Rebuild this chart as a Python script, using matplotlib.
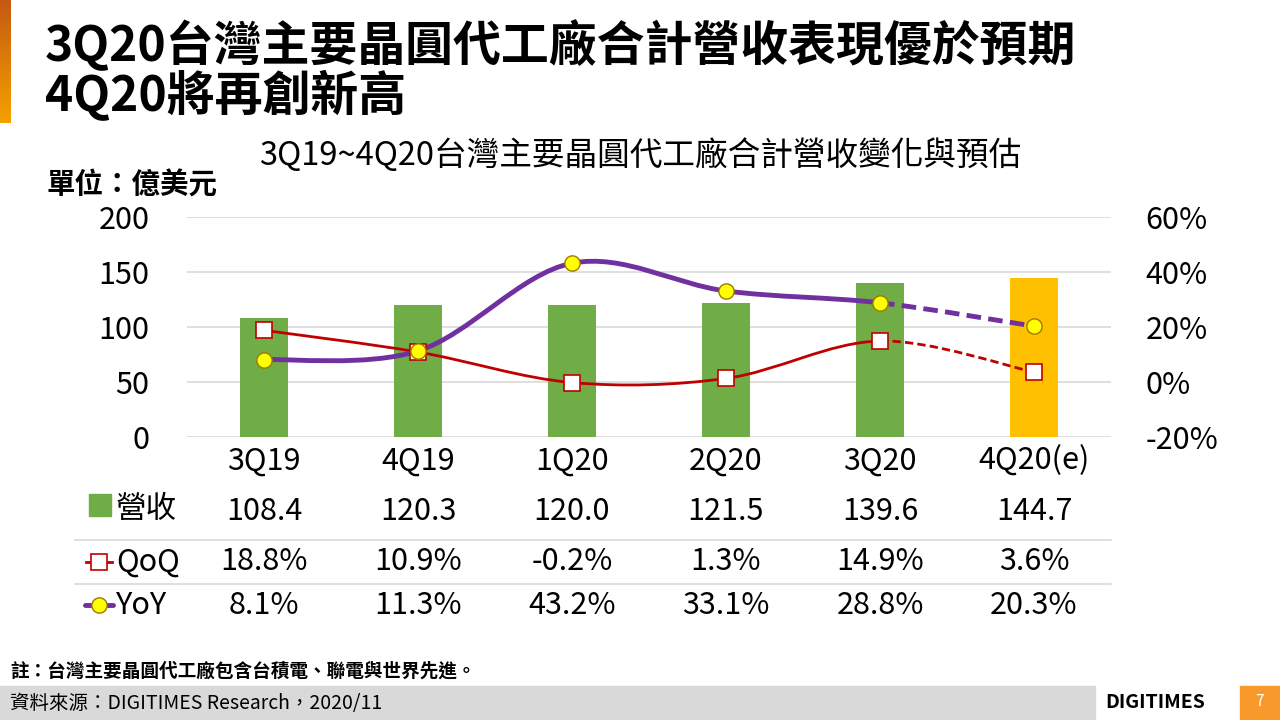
import numpy as np
import matplotlib
matplotlib.use('Agg')
from matplotlib import pyplot as plt
from matplotlib.path import Path
from matplotlib.patches import PathPatch, Rectangle
from matplotlib.lines import Line2D
import matplotlib.transforms as mtransforms

plt.rcParams['font.family'] = ['Noto Sans CJK TC', 'DejaVu Sans']

# Data
quarters = ['3Q19', '4Q19', '1Q20', '2Q20', '3Q20', '4Q20(e)']
revenue = [108.4, 120.3, 120.0, 121.5, 139.6, 144.7]
qoq = [18.8, 10.9, -0.2, 1.3, 14.9, 3.6]
yoy = [8.1, 11.3, 43.2, 33.1, 28.8, 20.3]
bar_colors = ['#70AD47'] * 5 + ['#FFC000']

GREEN = '#70AD47'
RED = '#C00000'
PURPLE = '#7030A0'
YELLOW = '#FFFF00'
GRID = '#D9D9D9'

W, H = 1280, 720
FS = 22


def fx(x):
    return x / W


def fy(y):
    return 1 - y / H


def smooth_path(xs, ys, start, end):
    # Excel-style smoothed line as cubic bezier segments
    xs = np.asarray(xs, float)
    ys = np.asarray(ys, float)
    n = len(xs)
    verts, codes = [(xs[start], ys[start])], [Path.MOVETO]
    for i in range(start, end):
        p0 = np.array([xs[max(i - 1, 0)], ys[max(i - 1, 0)]])
        p1 = np.array([xs[i], ys[i]])
        p2 = np.array([xs[i + 1], ys[i + 1]])
        p3 = np.array([xs[min(i + 2, n - 1)], ys[min(i + 2, n - 1)]])
        c1 = p1 + (p2 - p0) / 6
        c2 = p2 - (p3 - p1) / 6
        verts += [tuple(c1), tuple(c2), tuple(p2)]
        codes += [Path.CURVE4] * 3
    return Path(verts, codes)


fig = plt.figure(figsize=(12.8, 7.2), dpi=100)
ax = fig.add_axes([fx(187), fy(437), fx(1111) - fx(187), fy(217) - fy(437)])
x = np.arange(len(quarters))

# Bars
ax.bar(x, revenue, width=0.31, color=bar_colors, zorder=2)
ax.set_xlim(-0.5, 5.5)
ax.set_ylim(0, 200)
ax.set_yticks([0, 50, 100, 150, 200])
ax.yaxis.grid(True, color=GRID, linewidth=1.2, zorder=0)
ax.set_axisbelow(True)
for s in ax.spines.values():
    s.set_visible(False)
ax.tick_params(axis='y', length=0, labelsize=FS, pad=27)
ax.set_xticks(x)
ax.set_xticklabels(quarters)
ax.tick_params(axis='x', length=0, labelsize=FS, pad=6)

# Lines on secondary axis
ax2 = ax.twinx()
ax2.set_ylim(-20, 60)
ax2.set_yticks([-20, 0, 20, 40, 60])
ax2.set_yticklabels(['-20%', '0%', '20%', '40%', '60%'])
ax2.tick_params(axis='y', length=0, labelsize=FS, pad=25)
for s in ax2.spines.values():
    s.set_visible(False)

for vals, color, lw in [(qoq, RED, 2.0), (yoy, PURPLE, 3.5)]:
    ax2.add_patch(PathPatch(smooth_path(x, vals, 0, 4), fill=False,
                            edgecolor=color, linewidth=lw, zorder=3,
                            capstyle='round'))
    ax2.add_patch(PathPatch(smooth_path(x, vals, 4, 5), fill=False,
                            edgecolor=color, linewidth=lw, zorder=3,
                            linestyle=(0, (3, 1.5))))

ax2.plot(x, qoq, linestyle='none', marker='s', markersize=11,
         markerfacecolor='white', markeredgecolor=RED, markeredgewidth=1.2,
         zorder=4)
ax2.plot(x, yoy, linestyle='none', marker='o', markersize=11,
         markerfacecolor=YELLOW, markeredgecolor='#9C7A00', markeredgewidth=1,
         zorder=5)

# Data table below the chart
blend = mtransforms.blended_transform_factory(ax.transData, fig.transFigure)
rows = [
    ([f'{v:.1f}' for v in revenue], 512),
    ([f'{v:.1f}%' for v in qoq], 562),
    ([f'{v:.1f}%' for v in yoy], 605),
]
for labels, ypos in rows:
    for xi, lab in zip(x, labels):
        ax.text(xi, fy(ypos), lab, transform=blend, ha='center', va='center',
                fontsize=FS)

for ypos in [540, 584]:
    fig.add_artist(Line2D([fx(75), fx(1111)], [fy(ypos), fy(ypos)],
                          color=GRID, linewidth=1.2))

# Row legend keys
fig.add_artist(Rectangle((fx(89), fy(516)), fx(22), fy(494) - fy(516),
                         transform=fig.transFigure, color=GREEN))
fig.text(fx(116), fy(510), '營收', fontsize=FS, va='center', ha='left')
fig.add_artist(Line2D([fx(86), fx(112)], [fy(562), fy(562)], color=RED,
                      linewidth=2))
fig.add_artist(Line2D([fx(99)], [fy(562)], marker='s', markersize=11,
                      markerfacecolor='white', markeredgecolor=RED,
                      markeredgewidth=1.2))
fig.text(fx(116), fy(562), 'QoQ', fontsize=FS, va='center', ha='left')
fig.add_artist(Line2D([fx(85), fx(113)], [fy(605), fy(605)], color=PURPLE,
                      linewidth=3.5, solid_capstyle='round'))
fig.add_artist(Line2D([fx(99)], [fy(605)], marker='o', markersize=11,
                      markerfacecolor=YELLOW, markeredgecolor='#9C7A00',
                      markeredgewidth=1))
fig.text(fx(116), fy(605), 'YoY', fontsize=FS, va='center', ha='left')

# Titles
fig.text(fx(45), fy(45), '3Q20台灣主要晶圓代工廠合計營收表現優於預期',
         fontsize=34.5, fontweight='bold', va='center', ha='left')
fig.text(fx(45), fy(96), '4Q20將再創新高',
         fontsize=34.5, fontweight='bold', va='center', ha='left')
fig.text(fx(640), fy(155), '3Q19~4Q20台灣主要晶圓代工廠合計營收變化與預估',
         fontsize=23.5, va='center', ha='center')
fig.text(fx(47), fy(185), '單位：億美元', fontsize=20.5, fontweight='bold',
         va='center', ha='left')

# Orange side bar (gradient)
grad = np.linspace(0, 1, 100).reshape(-1, 1)
cax = fig.add_axes([0, fy(123), fx(11), fy(0) - fy(123)])
cmap = matplotlib.colors.LinearSegmentedColormap.from_list(
    'org', ['#C55A11', '#F5A000'])
cax.imshow(grad, aspect='auto', cmap=cmap)
cax.axis('off')

# Footer
fig.text(fx(10), fy(671), '註：台灣主要晶圓代工廠包含台積電、聯電與世界先進。',
         fontsize=13.4, fontweight='bold', va='center', ha='left')
fig.add_artist(Rectangle((0, fy(719)), fx(1095), fy(686) - fy(719),
                         transform=fig.transFigure, color='#D9D9D9'))
fig.text(fx(10), fy(703), '資料來源：DIGITIMES Research，2020/11',
         fontsize=14, va='center', ha='left')
fig.text(fx(1155), fy(702), 'DIGITIMES', fontsize=14, fontweight='bold',
         va='center', ha='center')
fig.add_artist(Rectangle((fx(1240), fy(719)), fx(40), fy(686) - fy(719),
                         transform=fig.transFigure, color='#F79A2B'))
fig.text(fx(1260), fy(702), '7', fontsize=11, color='white',
         va='center', ha='center')

fig.savefig('out.png', dpi=100)
